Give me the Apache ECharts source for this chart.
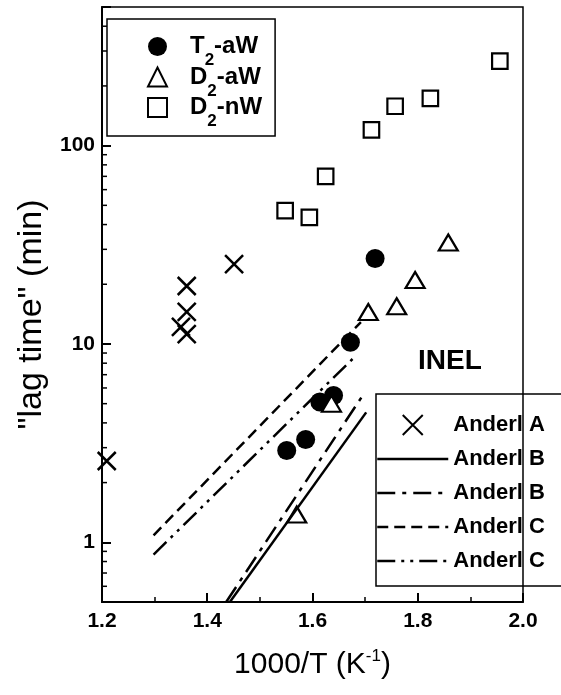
<!DOCTYPE html>
<html>
<head>
<meta charset="utf-8">
<script src="https://cdn.jsdelivr.net/npm/echarts@6/dist/echarts.min.js"></script>
<style>html,body{margin:0;padding:0;background:#fff}#c{width:561px;height:695px}</style>
</head>
<body>
<div id="c"></div>
<script>
// ---- data ----
const xTicks = [1.2, 1.4, 1.6, 1.8, 2.0];
const yTickLabels = [1, 10, 100];
const yMinorMultipliers = [2, 3, 4, 5, 6, 7, 8, 9];
const yDecades = [0.1, 1, 10, 100];

const t2aW_x = [1.551, 1.587, 1.614, 1.640, 1.672, 1.719];
const t2aW_y = [2.9, 3.3, 5.1, 5.5, 10.2, 27.0];

const d2aW_x = [1.570, 1.636, 1.706, 1.760, 1.795, 1.858];
const d2aW_y = [1.38, 5.0, 14.5, 15.5, 21.0, 32.5];

const d2nW_x = [1.548, 1.594, 1.625, 1.712, 1.757, 1.824, 1.956];
const d2nW_y = [47, 43.5, 70, 120, 158, 173, 267];

const anderlA_x = [1.209, 1.361, 1.361, 1.350, 1.361, 1.451];
const anderlA_y = [2.57, 19.6, 14.5, 12.2, 11.2, 25.3];

const anderlB1_x = [1.443, 1.702];
const anderlB1_y = [0.5, 4.52];
const anderlB2_x = [1.436, 1.693];
const anderlB2_y = [0.5, 5.38];
const anderlC1_x = [1.298, 1.692];
const anderlC1_y = [1.085, 12.9];
const anderlC2_x = [1.298, 1.68];
const anderlC2_y = [0.867, 8.6];

const xMin = 1.2, xMax = 2.0, yMin = 0.5, yMax = 500;

// ---- build ----
const pairs = (xs, ys) => xs.map((x, i) => [x, ys[i]]);
const minorVals = [];
yDecades.forEach(d => yMinorMultipliers.forEach(m => {
  const v = d * m;
  if (v > yMin && v < yMax) minorVals.push([xMin, v]);
}));

const FONT = '"Liberation Sans", Arial, Helvetica, sans-serif';
const XPATH = 'path://M0,0L10,10M10,0L0,10';
const hideSym = {color: 'transparent', borderWidth: 0, opacity: 0};

const chart = echarts.init(document.getElementById('c'), null, {renderer: 'canvas'});
chart.setOption({
  animation: false,
  backgroundColor: '#fff',
  textStyle: {fontFamily: FONT, color: '#000'},
  grid: {left: 102, right: 38, top: 7, bottom: 93, show: true, borderColor: '#000', borderWidth: 1.5, backgroundColor: 'transparent'},
  xAxis: {
    type: 'value', min: xMin, max: xMax, interval: 0.2,
    axisLine: {lineStyle: {color: '#000', width: 2}},
    axisTick: {inside: true, length: 9, lineStyle: {color: '#000', width: 2}},
    minorTick: {show: true, splitNumber: 2, length: 5, lineStyle: {color: '#000', width: 1.5}},
    splitLine: {show: false},
    axisLabel: {
      margin: 9, fontSize: 21, fontWeight: 'bold', color: '#000', fontFamily: FONT,
      formatter: v => xTicks.some(t => Math.abs(t - v) < 1e-6) ? v.toFixed(1) : ''
    },
    name: '{n|1000/T (K}{s|-1}{n|)}',
    nameLocation: 'middle', nameGap: 46,
    nameTextStyle: {
      rich: {
        n: {fontSize: 30, fontFamily: FONT, color: '#000', lineHeight: 34},
        s: {fontSize: 17, fontFamily: FONT, color: '#000', verticalAlign: 'top', lineHeight: 20, padding: [0, 0, 8, 0]}
      }
    }
  },
  yAxis: {
    type: 'log', logBase: 10, min: yMin, max: yMax,
    axisLine: {lineStyle: {color: '#000', width: 2}},
    axisTick: {inside: true, length: 9, lineStyle: {color: '#000', width: 2}},
    splitLine: {show: false},
    axisLabel: {
      margin: 7, fontSize: 21, fontWeight: 'bold', color: '#000', fontFamily: FONT,
      formatter: v => yTickLabels.some(t => Math.abs(t - v) / t < 1e-6) ? String(Math.round(v)) : ''
    },
    name: '"lag time" (min)',
    nameLocation: 'middle', nameRotate: 90, nameGap: 52,
    nameTextStyle: {fontSize: 34, fontFamily: FONT, color: '#000', padding: [0, 20, 0, 0]}
  },
  legend: [
    {
      data: [{name: 'T2-aW', icon: 'circle'}, {name: 'D2-aW', icon: 'triangle'}, {name: 'D2-nW', icon: 'rect'}],
      orient: 'vertical', left: 107, top: 19,
      itemWidth: 19, itemHeight: 19, itemGap: -14.5,
      padding: [5, 13, 6, 40],
      borderColor: '#000', borderWidth: 1.5,
      selectedMode: false,
      formatter: n => n.replace(/^(\w)2-(\w+)$/, '{p|}{b|$1}{s|2}{b|-$2}'),
      textStyle: {
        rich: {
          p: {width: 18, height: 10},
          b: {fontSize: 24, fontWeight: 'bold', fontFamily: FONT, color: '#000', lineHeight: 24},
          s: {fontSize: 17, fontWeight: 'bold', fontFamily: FONT, color: '#000', lineHeight: 17, padding: [28, 0, 0, 0]}
        }
      }
    },
    {
      data: [
        {name: 'Anderl A'},
        {name: 'Anderl B', itemStyle: hideSym},
        {name: 'Anderl B ', itemStyle: hideSym},
        {name: 'Anderl C', itemStyle: hideSym},
        {name: 'Anderl C ', itemStyle: hideSym}
      ],
      orient: 'vertical', left: 376, top: 394,
      itemWidth: 71, itemHeight: 20, itemGap: 8,
      padding: [18, 30, 12, 0],
      borderColor: '#000', borderWidth: 1.5,
      selectedMode: false,
      formatter: n => n.trim(),
      lineStyle: {width: 'inherit'},
      textStyle: {fontSize: 22, fontWeight: 'bold', fontFamily: FONT, color: '#000', lineHeight: 26}
    }
  ],
  graphic: [
    {type: 'text', left: 418, top: 347, style: {text: 'INEL', fontSize: 28, fontWeight: 'bold', fontFamily: FONT, fill: '#000'}}
  ],
  series: [
    {
      type: 'custom', name: 'yminor', silent: true, clip: false,
      data: minorVals,
      renderItem: (params, api) => {
        const p = api.coord([api.value(0), api.value(1)]);
        return {type: 'line', shape: {x1: p[0], y1: p[1], x2: p[0] + 5, y2: p[1]}, style: {stroke: '#000', lineWidth: 1.5}};
      }
    },
    {type: 'line', name: 'Anderl B', data: pairs(anderlB1_x, anderlB1_y), symbol: 'none', lineStyle: {color: '#000', width: 2.5, type: 'solid'}},
    {type: 'line', name: 'Anderl B ', data: pairs(anderlB2_x, anderlB2_y), symbol: 'none', lineStyle: {color: '#000', width: 2.5, type: [18, 7, 4, 7]}},
    {type: 'line', name: 'Anderl C', data: pairs(anderlC1_x, anderlC1_y), symbol: 'none', lineStyle: {color: '#000', width: 2.5, type: [11, 6]}},
    {type: 'line', name: 'Anderl C ', data: pairs(anderlC2_x, anderlC2_y), symbol: 'none', lineStyle: {color: '#000', width: 2.5, type: [18, 6, 3, 6, 3, 6]}},
    {type: 'scatter', name: 'Anderl A', data: pairs(anderlA_x, anderlA_y), symbol: XPATH, symbolSize: 18,
      itemStyle: {color: 'none', borderColor: '#000', borderWidth: 2.5, opacity: 1}},
    {type: 'scatter', name: 'T2-aW', data: pairs(t2aW_x, t2aW_y), symbol: 'circle', symbolSize: 19,
      itemStyle: {color: '#000', borderColor: '#000', borderWidth: 0, opacity: 1}},
    {type: 'scatter', name: 'D2-nW', data: pairs(d2nW_x, d2nW_y), symbol: 'rect', symbolSize: 15.5,
      itemStyle: {color: '#fff', borderColor: '#000', borderWidth: 2.2, opacity: 1}},
    {type: 'scatter', name: 'D2-aW', data: pairs(d2aW_x, d2aW_y), symbol: 'triangle', symbolSize: [19, 16],
      itemStyle: {color: '#fff', borderColor: '#000', borderWidth: 2.2, opacity: 1}}
  ]
});
</script>
</body>
</html>
